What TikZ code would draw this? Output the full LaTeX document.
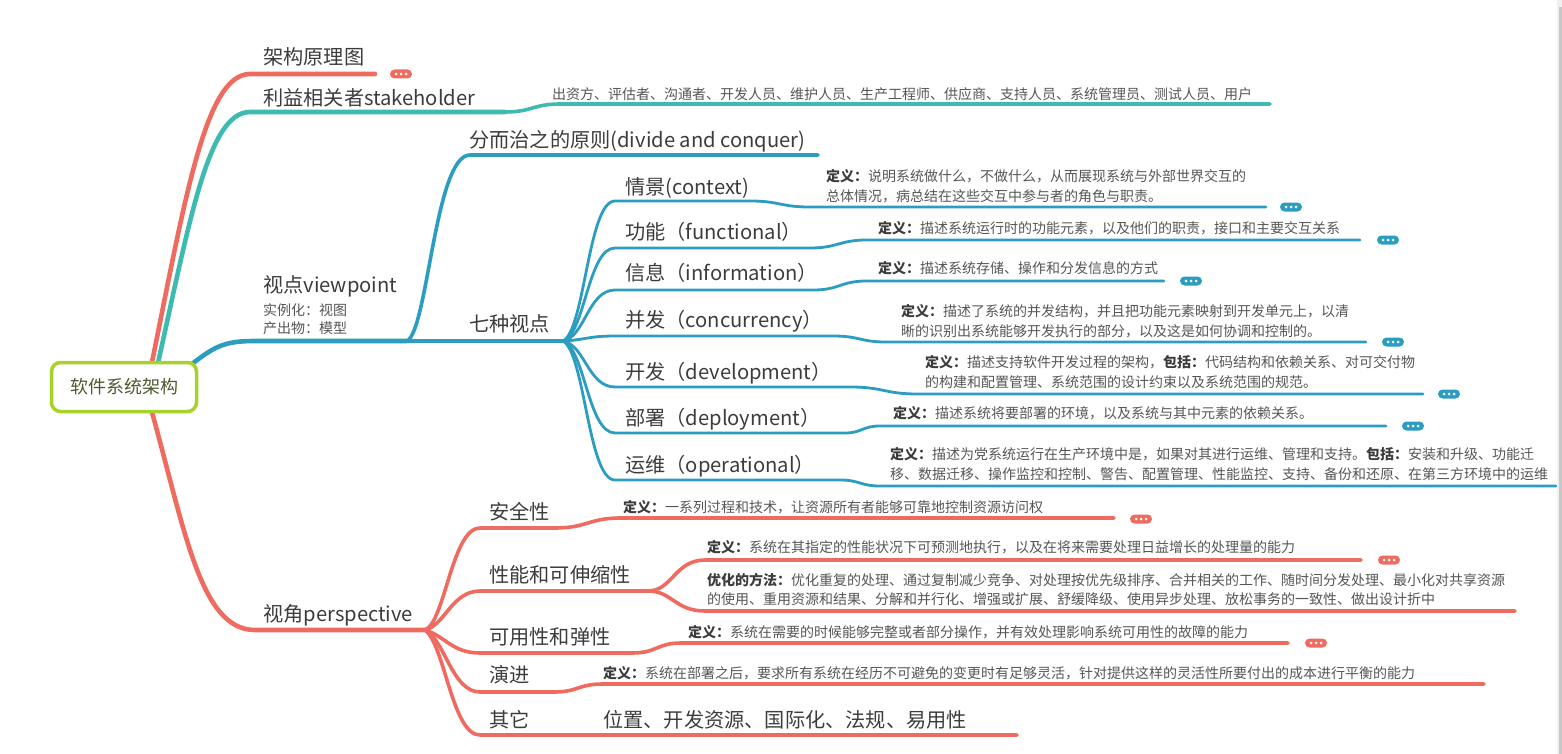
\documentclass[tikz,border=0pt]{standalone}
\usepackage{fontspec}
\setmainfont{Noto Sans CJK SC}
\usetikzlibrary{backgrounds}
\definecolor{cRed}{HTML}{EF6B5F}
\definecolor{cTeal}{HTML}{3DBBB1}
\definecolor{cBlue}{HTML}{2A9DC0}
\definecolor{cLime}{HTML}{A8D12B}
\definecolor{cRoot}{HTML}{4E5A31}
\definecolor{cTxt}{HTML}{3C3C3C}
\definecolor{cDef}{HTML}{555555}
\newcommand{\myb}[1]{\textbf{\color{cTxt}#1}}
\tikzset{
  lbl/.style={anchor=base west, inner sep=0pt, text=cTxt, font=\fontsize{20.2}{24}\selectfont},
  sm/.style={anchor=base west, inner sep=0pt, text=cDef, font=\fontsize{14}{16}\selectfont},
  rootbox/.style={draw=cLime, fill=white, line width=3.5pt, rounded corners=9pt,
    minimum width=145pt, minimum height=49pt, inner sep=0pt, text=cRoot,
    font=\fontsize{18}{20}\selectfont},
  lone/.style={draw=#1, line width=4.6pt, line cap=round},
  ltwo/.style={draw=#1, line width=3.6pt, line cap=round},
  lthree/.style={draw=#1, line width=2.8pt, line cap=round},
  pics/more/.style={code={
    \fill[#1, rounded corners=4.5pt] (-11,-4.5) rectangle (11,4.5);
    \fill[white] (-5,0) circle (1.5pt) (0,0) circle (1.5pt) (5,0) circle (1.5pt);
  }}
}
\begin{document}
\begin{tikzpicture}[x=1pt,y=-1pt]
\useasboundingbox (0,0) rectangle (1562,754);
\fill[black!6] (1557,0) rectangle (1562,754);
\fill[black!22] (1559,7) rectangle (1562,754);

% ---------- root ----------
\node[rootbox] (root) at (124,387) {软件系统架构};

% ---------- level 1 texts ----------
\node[lbl] (tA) at (263,64.5) {架构原理图};
\node[lbl] (tB) at (263,105.5) {利益相关者stakeholder};
\node[sm]  (dB) at (552,99.3) {出资方、评估者、沟通者、开发人员、维护人员、生产工程师、供应商、支持人员、系统管理员、测试人员、用户};
\node[lbl] (tC) at (263,292.5) {视点viewpoint};
\node[sm]  (tC1) at (263,315.3) {实例化：视图};
\node[sm]  (tC2) at (263,333.3) {产出物：模型};
\node[lbl] (tD) at (263,621.5) {视角perspective};

% ---------- viewpoint children ----------
\node[lbl] (tC3) at (469,147.5) {分而治之的原则(divide and conquer)};
\node[lbl] (tC4) at (469,331.5) {七种视点};
\node[lbl] (v1) at (625,194.5) {情景(context)};
\node[lbl] (v2) at (625,239.5) {功能（functional）};
\node[lbl] (v3) at (625,280.5) {信息（information）};
\node[lbl] (v4) at (625,327.5) {并发（concurrency）};
\node[lbl] (v5) at (625,379.5) {开发（development）};
\node[lbl] (v6) at (625,425.5) {部署（deployment）};
\node[lbl] (v7) at (625,472.5) {运维（operational）};

\node[sm] (d1a) at (826,181.3) {\myb{定义：}说明系统做什么，不做什么，从而展现系统与外部世界交互的};
\node[sm] (d1b) at (826,201.3) {总体情况，病总结在这些交互中参与者的角色与职责。};
\node[sm] (d2)  at (878,233.3) {\myb{定义：}描述系统运行时的功能元素，以及他们的职责，接口和主要交互关系};
\node[sm] (d3)  at (878,273.3) {\myb{定义：}描述系统存储、操作和分发信息的方式};
\node[sm] (d4a) at (901,316.3) {\myb{定义：}描述了系统的并发结构，并且把功能元素映射到开发单元上，以清};
\node[sm] (d4b) at (901,336.3) {晰的识别出系统能够开发执行的部分，以及这是如何协调和控制的。};
\node[sm] (d5a) at (925,367.3) {\myb{定义：}描述支持软件开发过程的架构，\myb{包括：}代码结构和依赖关系、对可交付物};
\node[sm] (d5b) at (925,387.3) {的构建和配置管理、系统范围的设计约束以及系统范围的规范。};
\node[sm] (d6)  at (893,418.3) {\myb{定义：}描述系统将要部署的环境，以及系统与其中元素的依赖关系。};
\node[sm] (d7a) at (890,459.3) {\myb{定义：}描述为党系统运行在生产环境中是，如果对其进行运维、管理和支持。\myb{包括：}安装和升级、功能迁};
\node[sm] (d7b) at (890,479.3) {移、数据迁移、操作监控和控制、警告、配置管理、性能监控、支持、备份和还原、在第三方环境中的运维};

% ---------- perspective children ----------
\node[lbl] (q1) at (489,519.5) {安全性};
\node[lbl] (q2) at (489,582.5) {性能和可伸缩性};
\node[lbl] (q3) at (489,644.5) {可用性和弹性};
\node[lbl] (q4) at (489,682.5) {演进};
\node[lbl] (q5) at (489,727.5) {其它};
\node[sm] (s1)  at (623,512.3) {\myb{定义：}一系列过程和技术，让资源所有者能够可靠地控制资源访问权};
\node[sm] (p1)  at (707,552.3) {\myb{定义：}系统在其指定的性能状况下可预测地执行，以及在将来需要处理日益增长的处理量的能力};
\node[sm] (p2a) at (707,585.3) {\myb{优化的方法：}优化重复的处理、通过复制减少竞争、对处理按优先级排序、合并相关的工作、随时间分发处理、最小化对共享资源};
\node[sm] (p2b) at (707,604.3) {的使用、重用资源和结果、分解和并行化、增强或扩展、舒缓降级、使用异步处理、放松事务的一致性、做出设计折中};
\node[sm] (a1)  at (688,637.3) {\myb{定义：}系统在需要的时候能够完整或者部分操作，并有效处理影响系统可用性的故障的能力};
\node[sm] (e1)  at (603,678.3) {\myb{定义：}系统在部署之后，要求所有系统在经历不可避免的变更时有足够灵活，针对提供这样的灵活性所要付出的成本进行平衡的能力};
\node[lbl] (o1) at (603,727.5) {位置、开发资源、国际化、法规、易用性};

% ---------- junction coordinates ----------
\coordinate (rA) at (150,372);
\coordinate (rB) at (156,372);
\coordinate (rC) at (192,364);
\coordinate (rD) at (150,405);
\coordinate (hA) at (250,74);   \coordinate (eA) at (375,74);
\coordinate (hB) at (250,112);  \coordinate (bB) at (505,112);
\coordinate (cB) at (560,104);  \coordinate (eB) at (1270,104);
\coordinate (hC) at (255,341);  \coordinate (jC) at (407,341);
\coordinate (jD) at (563,341);  \coordinate (eC3) at (818,155);
\coordinate (hD) at (255,630);  \coordinate (jE) at (425,630);
\coordinate (jF) at (648,591);

\begin{scope}[on background layer]
% level 1
\draw[lone=cRed]  (rA) .. controls (185,200) and (205,74) .. (hA) -- (eA);
\draw[lone=cTeal] (rB) .. controls (190,220) and (208,112) .. (hB) -- (bB);
\draw[ltwo=cTeal] (bB) .. controls (532,112) and (533,104) .. (cB) -- (eB);
\draw[lone=cBlue] (rC) .. controls (215,346) and (225,341) .. (hC) -- (jC);
\draw[lone=cRed]  (rD) .. controls (185,530) and (200,630) .. (hD) -- (jE);

% viewpoint
\draw[ltwo=cBlue] (jC) .. controls (428,330) and (435,155) .. (470,155) -- (eC3);
\draw[ltwo=cBlue] (jC) -- (jD);

% seven views: child underline + definition line
\draw[lthree=cBlue] (jD) .. controls (585,330) and (588,201) .. (615,201) -- (750,201)
   .. controls (780,201) and (780,207) .. (810,207) -- (1266,207);
\draw[lthree=cBlue] (jD) .. controls (585,334) and (588,248) .. (615,248) -- (810,248)
   .. controls (838,248) and (839,240) .. (867,240) -- (1360,240);
\draw[lthree=cBlue] (jD) .. controls (585,337) and (588,290) .. (615,290) -- (813,290)
   .. controls (840,290) and (840,281) .. (867,281) -- (1164,281);
\draw[lthree=cBlue] (jD) .. controls (585,340) and (588,336) .. (615,336) -- (833,336)
   .. controls (860,336) and (860,342) .. (886,342) -- (1366,342);
\draw[lthree=cBlue] (jD) .. controls (585,345) and (588,387) .. (615,387) -- (850,387)
   .. controls (884,387) and (884,394) .. (918,394) -- (1423,394);
\draw[lthree=cBlue] (jD) .. controls (585,349) and (588,433) .. (615,433) -- (845,433)
   .. controls (862,433) and (862,426) .. (880,426) -- (1386,426);
\draw[lthree=cBlue] (jD) .. controls (585,353) and (588,480) .. (615,480) -- (840,480)
   .. controls (860,480) and (860,486) .. (880,486) -- (1556,486);

% perspective
\draw[ltwo=cRed] (jE) .. controls (445,622) and (452,528) .. (480,528) -- (554,528)
   .. controls (588,528) and (588,518) .. (621,518) -- (1114,518);
\draw[ltwo=cRed] (jE) .. controls (445,625) and (452,591) .. (480,591) -- (jF);
\draw[ltwo=cRed] (jF) .. controls (672,591) and (675,560) .. (705,560) -- (1361,560);
\draw[ltwo=cRed] (jF) .. controls (672,591) and (675,611) .. (705,611) -- (1515,611);
\draw[ltwo=cRed] (jE) .. controls (445,636) and (452,653) .. (480,653) -- (632,653)
   .. controls (657,653) and (657,643) .. (681,643) -- (1288,643);
\draw[ltwo=cRed] (jE) .. controls (445,640) and (452,692) .. (480,692) -- (554,692)
   .. controls (578,692) and (578,684) .. (603,684) -- (1484,684);
\draw[ltwo=cRed] (jE) .. controls (445,645) and (452,735) .. (480,735) -- (1017,735);

% collapsed markers
\pic (mA) at (401,74) {more=cRed};
\pic (m1) at (1291,207) {more=cBlue};
\pic (m2) at (1388,240) {more=cBlue};
\pic (m3) at (1191,281) {more=cBlue};
\pic (m4) at (1393,342) {more=cBlue};
\pic (m5) at (1449,394) {more=cBlue};
\pic (m6) at (1413,426) {more=cBlue};
\pic (ms) at (1141,519) {more=cRed};
\pic (mp) at (1389,560) {more=cRed};
\pic (ma) at (1316,643) {more=cRed};
\end{scope}
\end{tikzpicture}
\end{document}
